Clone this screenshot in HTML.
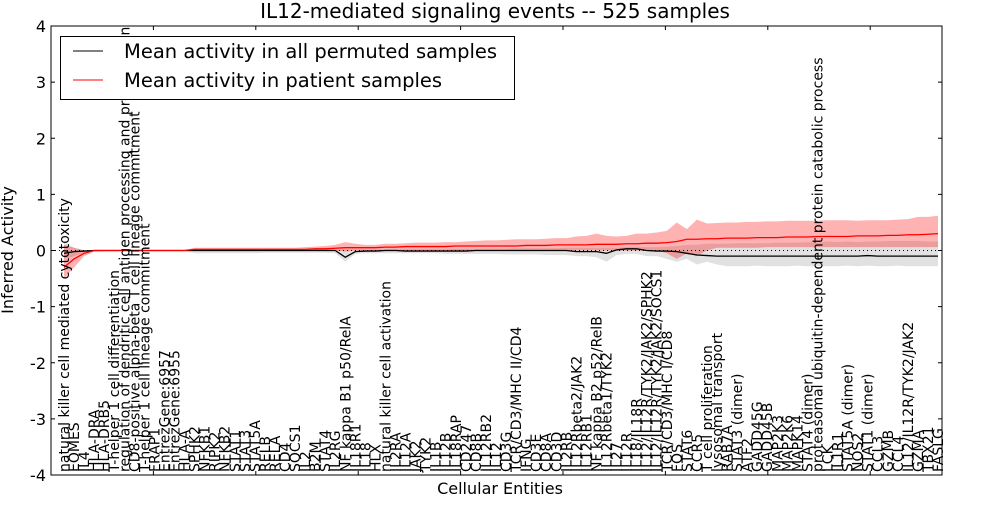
<!DOCTYPE html>
<html><head><meta charset="utf-8"><style>
body{margin:0;background:#fff;}
svg text{font-family:"DejaVu Sans","Liberation Sans",sans-serif;}
</style></head><body>
<svg id="c" width="1000" height="500" xmlns="http://www.w3.org/2000/svg">
<text x="495" y="18" font-size="20" text-anchor="middle">IL12-mediated signaling events -- 525 samples</text>
<text transform="translate(13,250) rotate(-90)" font-size="16" text-anchor="middle">Inferred Activity</text>
<text x="500" y="494" font-size="16" text-anchor="middle">Cellular Entities</text>
<g id="plot"></g>
</svg>
<script>
const categories=["natural killer cell mediated cytotoxicity","EOMES","IL4","HLA-DRA","HLA-DRB5","T-helper 1 cell differentiation","regulation of dendritic cell antigen processing and presentation","CD8-positive alpha-beta T cell lineage commitment","T-helper 1 cell lineage commitment","FRAP1","EntrezGene:6957","EntrezGene:6955","HLA-A","SPHK2","NFKB1","RIPK2","NFKB2","STAT1","STAT3","STAT5A","RELB","RELA","CD4","SOCS1","IL2","B2M","STAT4","IL2RG","NF kappa B1 p50/RelA","IL18R1","IL18","HLX","natural killer cell activation","IL2RA","IL12A","JAK2","TYK2","IL1B","IL12B","IL18RAP","CD247","CD8B","IL12RB2","IL12","CD3G","TCR/CD3/MHC II/CD4","IFNG","CD3E","CD8A","CD3D","IL2RB","IL12Rbeta2/JAK2","IL12RB1","NF kappa B2 p52/RelB","IL12Rbeta1/TYK2","IL27","IL12R","IL18/IL18R","IL12/IL12R/TYK2/JAK2/SPHK2","IL12/IL12R/TYK2/JAK2/SOCS1","TCR/CD3/MHC I/CD8","FOS","STAT6","CCR5","T cell proliferation","lysosomal transport","RAB7A","STAT3 (dimer)","ATF2","GADD45G","GADD45B","MAP2K3","MAP2K6","MAPK14","STAT4 (dimer)","proteasomal ubiquitin-dependent protein catabolic process","LCK","IL1R1","STAT5A (dimer)","NOS2","STAT1 (dimer)","CCL3","GZMB","CCL4","IL12/IL12R/TYK2/JAK2","GZMA","TBX21","FASLG"];
const redMean=[-0.3,-0.15,-0.05,0,0,0,0,0,0,0,0,0,0,0.02,0.02,0.02,0.02,0.02,0.02,0.02,0.02,0.02,0.02,0.02,0.02,0.03,0.03,0.04,0.05,0.05,0.05,0.05,0.06,0.06,0.07,0.07,0.07,0.07,0.07,0.08,0.08,0.08,0.08,0.08,0.08,0.08,0.09,0.09,0.09,0.1,0.1,0.1,0.1,0.11,0.11,0.11,0.12,0.12,0.13,0.13,0.14,0.16,0.2,0.2,0.21,0.21,0.22,0.22,0.22,0.23,0.23,0.23,0.24,0.24,0.24,0.25,0.25,0.25,0.25,0.26,0.26,0.26,0.27,0.27,0.28,0.28,0.29,0.3];
const redHigh=[0.1,0.05,0,0,0,0,0,0,0,0,0.01,0.01,0.01,0.05,0.05,0.05,0.05,0.05,0.05,0.05,0.05,0.05,0.05,0.05,0.06,0.07,0.08,0.1,0.15,0.12,0.1,0.1,0.12,0.12,0.13,0.14,0.14,0.14,0.15,0.15,0.16,0.17,0.18,0.18,0.19,0.2,0.2,0.2,0.21,0.22,0.22,0.25,0.26,0.3,0.26,0.25,0.26,0.3,0.3,0.32,0.35,0.5,0.38,0.55,0.48,0.49,0.5,0.5,0.51,0.51,0.52,0.52,0.53,0.53,0.53,0.53,0.54,0.54,0.54,0.53,0.54,0.54,0.54,0.55,0.56,0.6,0.6,0.62];
const redLow=[-0.5,-0.3,-0.1,-0.02,-0.01,0,0,0,0,0,0,0,0,-0.01,-0.01,-0.01,-0.01,0,0,0,0,0,0,0,0,0,0,0,-0.02,0,0,0,0,0,0,0,0,0,0,0,0,0,0,0,0,0,0,0,0,0,0,0,0,0,0,0,0,0,0,0,-0.05,-0.15,-0.05,-0.1,0,0.05,0.05,0.05,0.05,0.05,0.06,0.06,0.06,0.06,0.06,0.06,0.06,0.06,0.06,0.06,0.06,0.06,0.06,0.06,0.06,0.06,0.06,0.06];
const blackMean=[-0.05,-0.02,-0.01,0,0,0,0,0,0,0,0,0,0,0,0,0,0,0,0,0,0,0,0,0,0,0,0,0,-0.12,-0.02,-0.01,-0.01,0,0,-0.01,-0.01,-0.01,-0.01,-0.01,-0.01,-0.01,0,0,0,0,0,0,0,0,0,0,-0.02,-0.02,-0.02,-0.05,0.01,0.03,0.03,0,-0.01,-0.01,-0.02,-0.05,-0.08,-0.09,-0.1,-0.1,-0.1,-0.1,-0.1,-0.1,-0.1,-0.1,-0.1,-0.1,-0.1,-0.1,-0.1,-0.1,-0.1,-0.09,-0.1,-0.1,-0.1,-0.1,-0.1,-0.1,-0.1];
const blackHigh=[0.15,0.05,0.01,0.01,0.01,0.01,0.01,0.01,0.01,0.01,0.01,0.01,0.01,0.02,0.02,0.02,0.02,0.02,0.02,0.02,0.02,0.02,0.02,0.02,0.02,0.02,0.02,0.02,0.02,0.02,0.02,0.02,0.02,0.02,0.02,0.02,0.02,0.02,0.02,0.03,0.03,0.03,0.03,0.03,0.03,0.04,0.04,0.04,0.04,0.04,0.05,0.05,0.05,0.05,0.05,0.05,0.06,0.06,0.06,0.06,0.07,0.08,0.1,0.1,0.12,0.12,0.12,0.13,0.13,0.13,0.13,0.14,0.14,0.14,0.15,0.14,0.16,0.15,0.16,0.15,0.16,0.16,0.17,0.17,0.17,0.17,0.16,0.16];
const blackLow=[-0.15,-0.1,-0.03,-0.01,-0.01,-0.01,-0.01,-0.01,-0.01,-0.01,-0.01,-0.01,-0.01,-0.05,-0.05,-0.05,-0.05,-0.05,-0.05,-0.05,-0.04,-0.04,-0.04,-0.04,-0.04,-0.04,-0.04,-0.05,-0.2,-0.06,-0.05,-0.05,-0.05,-0.05,-0.05,-0.05,-0.05,-0.05,-0.06,-0.06,-0.06,-0.06,-0.06,-0.06,-0.07,-0.07,-0.07,-0.07,-0.08,-0.08,-0.08,-0.1,-0.1,-0.12,-0.2,-0.08,-0.06,-0.06,-0.1,-0.1,-0.15,-0.2,-0.15,-0.25,-0.2,-0.25,-0.28,-0.28,-0.28,-0.27,-0.28,-0.28,-0.28,-0.27,-0.28,-0.28,-0.28,-0.28,-0.27,-0.28,-0.27,-0.28,-0.28,-0.27,-0.28,-0.28,-0.28,-0.28];
const yTicks=[-4,-3,-2,-1,0,1,2,3,4];

const L=51,R=942,T=26,B=475;
const x=i=>64+i*(938-64)/(categories.length-1);
const y=v=>T+(4-v)*(B-T)/8;
const NS="http://www.w3.org/2000/svg";
const g=document.getElementById('plot');
function mk(tag,attrs){const e=document.createElementNS(NS,tag);for(const k in attrs)e.setAttribute(k,attrs[k]);g.appendChild(e);return e;}
function band(hi,lo,fill,op){let d=hi.map((v,i)=>(i?'L':'M')+x(i)+','+y(v)).join('');for(let i=lo.length-1;i>=0;i--)d+='L'+x(i)+','+y(lo[i]);return mk('path',{d:d+'Z',fill:fill,'fill-opacity':op,stroke:'none'});}
function line(a,c){return mk('path',{d:a.map((v,i)=>(i?'L':'M')+x(i)+','+y(v)).join(''),fill:'none',stroke:c,'stroke-width':1.3});}
let e;
e=band(blackHigh,blackLow,'#aaaaaa',0.35);


e=band(redHigh,redLow,'#ff0000',0.3);


e=mk('line',{x1:L,x2:R,y1:y(0),y2:y(0),stroke:'#000','stroke-dasharray':'1,3'});


e=line(blackMean,'#000');


e=line(redMean,'#ff0000');


categories.forEach((c,i)=>{
 const t=mk('text',{transform:`translate(${x(i)+5},${B-3}) rotate(-90)`,'font-size':14});
 t.textContent=c;
 
 
});
for(let k=1;k<9;k++){const xx=L+k*102.4;mk('line',{x1:xx,x2:xx,y1:T,y2:T+4,stroke:'#000'});mk('line',{x1:xx,x2:xx,y1:B,y2:B-4,stroke:'#000'});}
yTicks.forEach(v=>{
 mk('line',{x1:L,x2:L+4,y1:y(v),y2:y(v),stroke:'#000'});
 mk('line',{x1:R,x2:R-4,y1:y(v),y2:y(v),stroke:'#000'});
 const t=mk('text',{x:L-5,y:y(v)+6,'font-size':16,'text-anchor':'end'});
 t.textContent=v;
 
 
});
e=mk('rect',{x:L,y:T,width:R-L,height:B-T,fill:'none',stroke:'#000'});


const lg=mk('g',{});


lg.innerHTML='<rect x="60.5" y="36.5" width="454" height="63" fill="#fff" stroke="#000"/><line x1="73" x2="103" y1="51" y2="51" stroke="#000"/><text x="124" y="58" font-size="19.5">Mean activity in all permuted samples</text><line x1="73" x2="103" y1="80" y2="80" stroke="#f00"/><text x="124" y="87" font-size="19.5">Mean activity in patient samples</text>';
</script>
</body></html>
